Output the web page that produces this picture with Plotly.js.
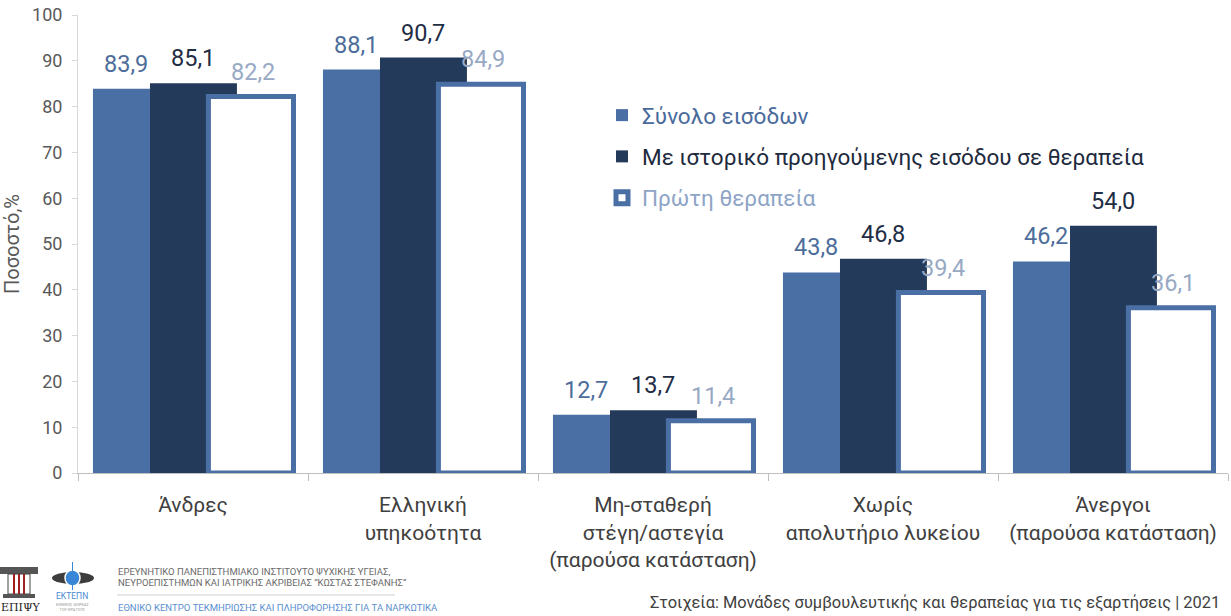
<!DOCTYPE html>
<html>
<head>
<meta charset="utf-8">
<script src="https://cdn.plot.ly/plotly-3.0.1.min.js"></script>
<style>
html,body{margin:0;padding:0;background:#fff;}
#chart{width:1231px;height:616px;}
</style>
</head>
<body>
<div id="chart"></div>
<script>
// ---- data ----
const categories = ['Άνδρες', 'Ελληνική υπηκοότητα', 'Μη-σταθερή στέγη/αστεγία (παρούσα κατάσταση)', 'Χωρίς απολυτήριο λυκείου', 'Άνεργοι (παρούσα κατάσταση)'];
const tickLabels = ['Άνδρες', 'Ελληνική<br>υπηκοότητα', 'Μη-σταθερή<br>στέγη/αστεγία<br>(παρούσα κατάσταση)', 'Χωρίς<br>απολυτήριο λυκείου', 'Άνεργοι<br>(παρούσα κατάσταση)'];
const seriesNames = ['Σύνολο εισόδων', 'Με ιστορικό προηγούμενης εισόδου σε θεραπεία', 'Πρώτη θεραπεία'];
const totalEntries = [83.9, 88.1, 12.7, 43.8, 46.2];
const previousTreatment = [85.1, 90.7, 13.7, 46.8, 54.0];
const firstTreatment = [82.2, 84.9, 11.4, 39.4, 36.1];
const yTicks = [0, 10, 20, 30, 40, 50, 60, 70, 80, 90, 100];

// ---- styles ----
const FONT = 'Roboto, "Open Sans", Arial, sans-serif';
const cBlue = '#4a6fa5', cDark = '#243a5a', cBorder = '#4a6fa5';
const lblColors = ['#4d6d9b', '#1f2d45', '#98a9c4'];
const legColors = ['#4a6a9c', '#1e2a3e', '#8ea4c6'];
const seriesStyle = [
  {offset: -0.435, width: 0.248, color: cBlue, line: {width: 0}},
  {offset: -0.187, width: 0.378, color: cDark, line: {width: 0}},
  {offset: 0.067, width: 0.37, color: '#ffffff', line: {width: 5, color: cBorder}}
];
const labelShift = [0.02, 0, 0.01];
const seriesValues = [totalEntries, previousTreatment, firstTreatment];

const traces = seriesValues.map((vals, i) => ({
  type: 'bar',
  x: categories,
  y: vals,
  name: '<span style="color:' + legColors[i] + '">' + seriesNames[i] + '</span>',
  legendgroup: 'g' + i,
  offset: seriesStyle[i].offset,
  width: seriesStyle[i].width,
  marker: {color: seriesStyle[i].color, line: seriesStyle[i].line},
  hoverinfo: 'y'
}));

const annotations = [];
seriesValues.forEach((vals, i) => {
  vals.forEach((v, j) => {
    annotations.push({
      x: j + seriesStyle[i].offset + seriesStyle[i].width / 2 + labelShift[i],
      y: v, xref: 'x', yref: 'y',
      text: v.toFixed(1).replace('.', ','),
      showarrow: false, yanchor: 'bottom', yshift: 9,
      font: {family: FONT, size: 23.5, color: lblColors[i]}
    });
  });
});

// pixel helpers for the area outside the plot
const W = 1150, H = 458, L = 78, T = 15;
const px = v => (v - L) / W;
const py = v => 1 - (v - T) / H;

// footer texts
annotations.push(
  {xref: 'paper', yref: 'paper', x: px(1222), y: py(602), xanchor: 'right', yanchor: 'middle', showarrow: false,
   text: 'Στοιχεία: Μονάδες συμβουλευτικής και θεραπείας για τις εξαρτήσεις | 2021',
   font: {family: FONT, size: 16.4, color: '#404040'}},
  {xref: 'paper', yref: 'paper', x: px(116), y: py(571), xanchor: 'left', yanchor: 'middle', showarrow: false,
   text: 'ΕΡΕΥΝΗΤΙΚΟ ΠΑΝΕΠΙΣΤΗΜΙΑΚΟ ΙΝΣΤΙΤΟΥΤΟ ΨΥΧΙΚΗΣ ΥΓΕΙΑΣ,',
   font: {family: FONT, size: 9.5, color: '#6b6b6b'}},
  {xref: 'paper', yref: 'paper', x: px(116), y: py(582), xanchor: 'left', yanchor: 'middle', showarrow: false,
   text: 'ΝΕΥΡΟΕΠΙΣΤΗΜΩΝ ΚΑΙ ΙΑΤΡΙΚΗΣ ΑΚΡΙΒΕΙΑΣ “ΚΩΣΤΑΣ ΣΤΕΦΑΝΗΣ”',
   font: {family: FONT, size: 9.5, color: '#6b6b6b'}},
  {xref: 'paper', yref: 'paper', x: px(116), y: py(607), xanchor: 'left', yanchor: 'middle', showarrow: false,
   text: 'ΕΘΝΙΚΟ ΚΕΝΤΡΟ ΤΕΚΜΗΡΙΩΣΗΣ ΚΑΙ ΠΛΗΡΟΦΟΡΗΣΗΣ ΓΙΑ ΤΑ ΝΑΡΚΩΤΙΚΑ',
   font: {family: FONT, size: 9.5, color: '#5b8fd0'}},
  {xref: 'paper', yref: 'paper', x: px(-1), y: py(607), xanchor: 'left', yanchor: 'middle', showarrow: false,
   text: 'ΕΠΙΨΥ', font: {family: '"DejaVu Serif", serif', size: 11, color: '#222'}},
  {xref: 'paper', yref: 'paper', x: px(72), y: py(596), xanchor: 'center', yanchor: 'middle', showarrow: false,
   text: 'ΕΚΤΕΠΝ', font: {family: FONT, size: 8.5, color: '#4a8ad0'}},
  {xref: 'paper', yref: 'paper', x: px(72), y: py(607), xanchor: 'center', yanchor: 'middle', showarrow: false,
   text: 'ΕΘΝΙΚΟΣ ΦΟΡΕΑΣ<br>ΤΟΥ ΚΡΑΤΟΥΣ', font: {family: FONT, size: 4, color: '#999'}}
);

// footer decorations (logos, separator)
const shapes = [
  {type: 'line', xref: 'paper', yref: 'paper', x0: px(117), x1: px(395), y0: py(595), y1: py(595), line: {color: '#cfcfcf', width: 1}},
  // ΕΠΙΨΥ column logo
  {type: 'rect', xref: 'paper', yref: 'paper', x0: px(0), x1: px(38), y0: py(567), y1: py(574), fillcolor: '#555', line: {width: 0}},
  {type: 'rect', xref: 'paper', yref: 'paper', x0: px(8), x1: px(30), y0: py(574), y1: py(594), fillcolor: '#ffffff', line: {color: '#444', width: 1}},
  {type: 'line', xref: 'paper', yref: 'paper', x0: px(14), x1: px(14), y0: py(574), y1: py(594), line: {color: '#a02020', width: 2}},
  {type: 'line', xref: 'paper', yref: 'paper', x0: px(19), x1: px(19), y0: py(574), y1: py(594), line: {color: '#a02020', width: 2}},
  {type: 'line', xref: 'paper', yref: 'paper', x0: px(24), x1: px(24), y0: py(574), y1: py(594), line: {color: '#a02020', width: 2}},
  {type: 'rect', xref: 'paper', yref: 'paper', x0: px(3), x1: px(35), y0: py(594), y1: py(598), fillcolor: '#555', line: {width: 0}},
  // ΕΚΤΕΠΝ eye logo
  {type: 'circle', xref: 'paper', yref: 'paper', x0: px(52), x1: px(94), y0: py(572), y1: py(584), fillcolor: '#3d3d3d', line: {width: 0}},
  {type: 'circle', xref: 'paper', yref: 'paper', x0: px(65), x1: px(80), y0: py(570), y1: py(586), fillcolor: '#3a86d6', line: {color: '#ffffff', width: 1.5}},
  {type: 'line', xref: 'paper', yref: 'paper', x0: px(72.5), x1: px(72.5), y0: py(562), y1: py(590), line: {color: '#3a86d6', width: 1}}
];

const layout = {
  width: 1231, height: 616,
  margin: {l: 78, r: 3, t: 15, b: 143},
  paper_bgcolor: '#ffffff', plot_bgcolor: '#ffffff',
  font: {family: FONT, color: '#404040'},
  barmode: 'overlay',
  showlegend: true,
  legend: {
    x: px(602), y: py(94), xanchor: 'left', yanchor: 'top',
    font: {family: FONT, size: 22.5},
    bgcolor: 'rgba(0,0,0,0)', tracegroupgap: 9, traceorder: 'grouped'
  },
  xaxis: {
    type: 'category', tickmode: 'array', tickvals: categories, ticktext: tickLabels,
    range: [-0.5, categories.length - 0.5],
    showline: true, linecolor: '#bfbfbf', linewidth: 1,
    ticks: 'outside', tickson: 'boundaries', ticklen: 7, tickcolor: '#bfbfbf',
    ticklabelstandoff: 13,
    tickfont: {family: FONT, size: 21, color: '#404040'},
    showgrid: false, zeroline: false, fixedrange: true
  },
  yaxis: {
    range: [0, 100], tickmode: 'array', tickvals: yTicks,
    showline: true, linecolor: '#d9d9d9', linewidth: 1,
    ticks: 'outside', ticklen: 5, tickcolor: '#d9d9d9',
    ticklabelstandoff: 6,
    tickfont: {family: FONT, size: 18, color: '#595959'},
    showgrid: false, zeroline: false, fixedrange: true,
    title: {text: 'Ποσοστό,%', font: {family: FONT, size: 20, color: '#595959'}, standoff: 8}
  },
  annotations: annotations,
  shapes: shapes
};

Plotly.newPlot('chart', traces, layout, {displayModeBar: false, staticPlot: true});
</script>
</body>
</html>
